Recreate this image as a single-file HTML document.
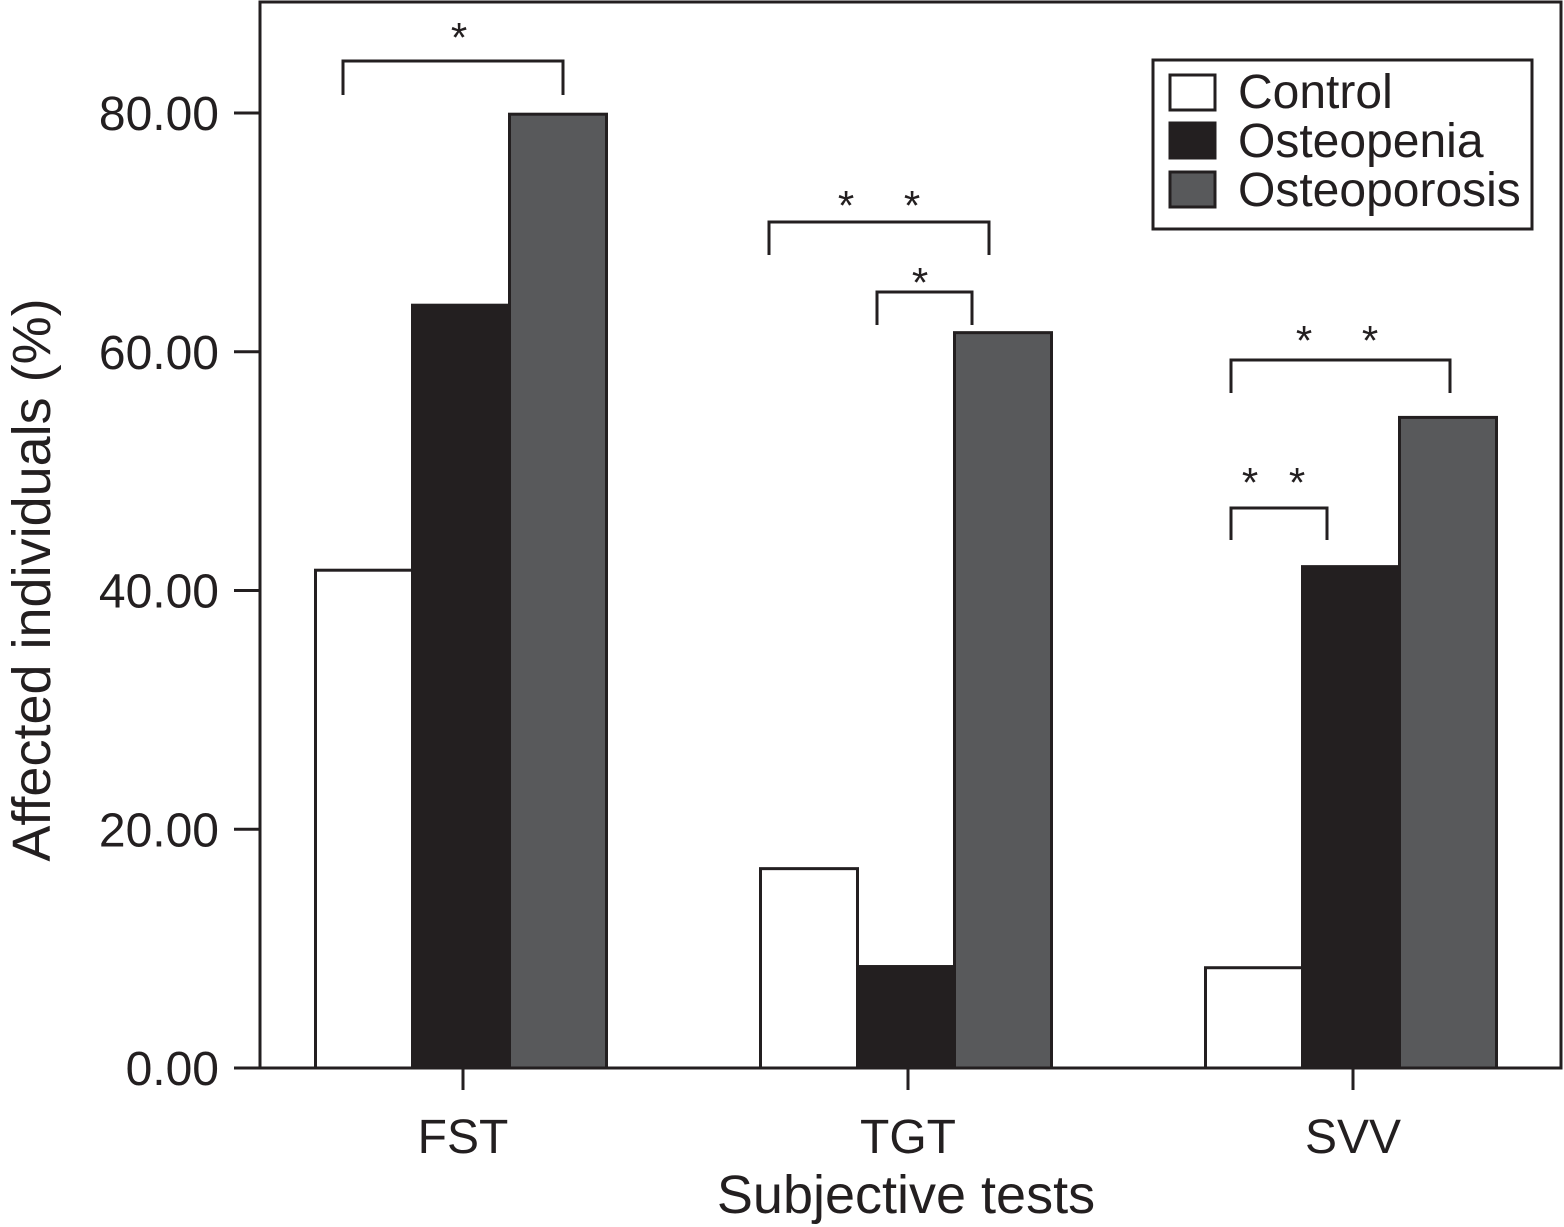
<!DOCTYPE html>
<html><head><meta charset="utf-8"><style>
html,body{margin:0;padding:0;background:#fff}
svg{display:block;font-family:"Liberation Sans",Arial,sans-serif}
</style></head><body>
<svg id="chart" width="1564" height="1227" viewBox="0 0 1564 1227" xmlns="http://www.w3.org/2000/svg">
<rect x="260" y="2" width="1301" height="1066" fill="none" stroke="#231f20" stroke-width="3"/>
<g id="bars"></g>
<g id="yaxis"></g>
<g id="xaxis"></g>
<g id="sig"></g>
<text x="906" y="1213" font-size="54" text-anchor="middle" fill="#231f20">Subjective tests</text>
<text transform="translate(50,580) rotate(-90)" font-size="54" text-anchor="middle" fill="#231f20">Affected individuals (%)</text>
<g>
<rect x="1153" y="60" width="379" height="169" fill="#fff" stroke="#231f20" stroke-width="3"/>
<g><rect x="1170" y="75" width="45" height="35" fill="#fff" stroke="#231f20" stroke-width="3"/><text x="1238" y="108" font-size="48" fill="#231f20">Control</text></g>
<g><rect x="1170" y="123" width="45" height="35" fill="#231f20" stroke="#231f20" stroke-width="3"/><text x="1238" y="157" font-size="48" fill="#231f20">Osteopenia</text></g>
<g><rect x="1170" y="172" width="45" height="35" fill="#58595b" stroke="#231f20" stroke-width="3"/><text x="1238" y="206" font-size="48" fill="#231f20">Osteoporosis</text></g>
</g>
</svg>
<script>
const categories = ["FST", "TGT", "SVV"];
const controlValues = [41.7, 16.7, 8.4];
const osteopeniaValues = [63.9, 8.5, 42.0];
const osteoporosisValues = [79.9, 61.6, 54.5];
const yTicks = [0, 20, 40, 60, 80];
const yTickLabels = ["0.00", "20.00", "40.00", "60.00", "80.00"];

const NS = "http://www.w3.org/2000/svg";
const y0 = 1068, pxPer = (1068 - 113) / 80;
function yScale(v){ return y0 - v * pxPer; }
function xCenter(i){ return 461 + i * 445; }
const barW = 97;
function mk(tag, attrs, parent){ const e = document.createElementNS(NS, tag); for (const k in attrs) e.setAttribute(k, attrs[k]); parent.appendChild(e); return e; }

const series = [
  {name:"control", vals:controlValues, fill:"#ffffff"},
  {name:"osteopenia", vals:osteopeniaValues, fill:"#231f20"},
  {name:"osteoporosis", vals:osteoporosisValues, fill:"#58595b"}
];
const gb = document.getElementById("bars");
categories.forEach((c, i) => {
  series.forEach((s, j) => {
    const x = xCenter(i) - 1.5 * barW + j * barW;
    const r = mk("rect", {x:x, y:yScale(s.vals[i]), width:barW, height:y0 - yScale(s.vals[i]), fill:s.fill, stroke:"#231f20", "stroke-width":3}, gb);
    
    
  });
});

const gy = document.getElementById("yaxis");
yTicks.forEach((t, i) => {
  const yy = yScale(t);
  const l = mk("line", {x1:234, x2:260, y1:yy, y2:yy, stroke:"#231f20", "stroke-width":3}, gy);
  
  
  const tx = mk("text", {x:219, y:yy + 17, "font-size":48, "text-anchor":"end", fill:"#231f20"}, gy);
  tx.textContent = yTickLabels[i];
  
  
});

const gx = document.getElementById("xaxis");
categories.forEach((c, i) => {
  const l = mk("line", {x1:xCenter(i) + 2, x2:xCenter(i) + 2, y1:1068, y2:1090, stroke:"#231f20", "stroke-width":3}, gx);
  
  
  const tx = mk("text", {x:xCenter(i) + 2, y:1153, "font-size":48, "text-anchor":"middle", fill:"#231f20"}, gx);
  tx.textContent = c;
  
  
});

const brackets = [
  {x1:343, x2:563, top:61, bot:95, stars:[459], sy:52},
  {x1:769, x2:989, top:222, bot:255, stars:[846, 912], sy:220},
  {x1:877, x2:972, top:292, bot:325, stars:[920], sy:297},
  {x1:1231, x2:1450, top:360, bot:393, stars:[1304, 1370], sy:355},
  {x1:1231, x2:1327, top:508, bot:540, stars:[1250, 1297], sy:497}
];
const gs = document.getElementById("sig");
brackets.forEach(b => {
  const p = mk("polyline", {points:`${b.x1},${b.bot} ${b.x1},${b.top} ${b.x2},${b.top} ${b.x2},${b.bot}`, fill:"none", stroke:"#231f20", "stroke-width":3}, gs);
  
  
  b.stars.forEach(sx => {
    const t = mk("text", {x:sx, y:b.sy, "font-size":42, "text-anchor":"middle", fill:"#231f20"}, gs);
    t.textContent = "*";
    
    
  });
});
</script>
</body></html>
